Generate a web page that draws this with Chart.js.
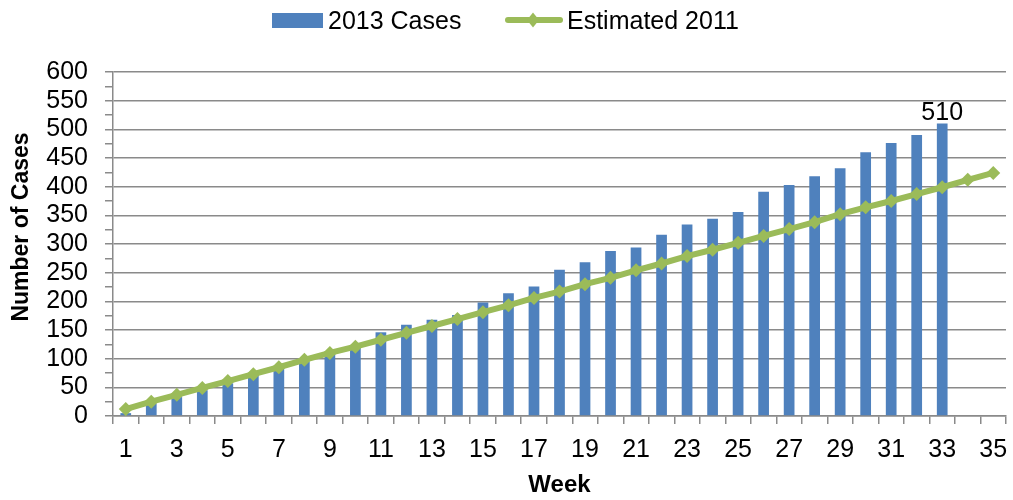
<!DOCTYPE html>
<html>
<head>
<meta charset="utf-8">
<script src="https://cdn.jsdelivr.net/npm/chart.js@4"></script>
<style>
  html, body { margin: 0; padding: 0; background: #fff; }
  #wrap { width: 1013px; height: 500px; }
</style>
</head>
<body>
<div id="wrap"><canvas id="c" width="1013" height="500"></canvas></div>
<script>
const weeks = ['1','2','3','4','5','6','7','8','9','10','11','12','13','14','15','16','17','18','19','20','21','22','23','24','25','26','27','28','29','30','31','32','33','34','35'];
const cases2013 = [5,22,33,45,57,72,83,95,109,121,146,159,168,176,198,214,226,255,268,288,294,316,334,344,356,391,403,418,432,460,476,490,510];
const estimated2011 = [12,25,37,49,61,73,85,98,110,121,133,145,157,169,181,193,206,217,230,241,254,266,279,290,302,314,326,338,352,364,375,387,399,412,424];
const seriesNames = ['2013 Cases', 'Estimated 2011'];
const xTitle = 'Week';
const yTitle = 'Number of Cases';
const yMin = 0, yMax = 600, yStep = 25, yLabelStep = 50;

const FONT = '"Liberation Sans", Arial, sans-serif';
const GRID = '#8a8a8a';
const BLUE = '#4F81BD';
const GREEN = '#9BBB59';
const FS = 25;

const legendPlugin = {
  id: 'customLegend',
  afterDraw(chart) {
    const ctx = chart.ctx;
    const ds = chart.data.datasets;
    ctx.save();
    ctx.font = FS + 'px ' + FONT;
    ctx.textBaseline = 'alphabetic';
    ctx.textAlign = 'left';
    ctx.fillStyle = ds[0].backgroundColor;
    ctx.fillRect(272, 13, 51, 15);
    ctx.fillStyle = '#000';
    ctx.fillText(ds[0].label, 328, 29);
    ctx.strokeStyle = ds[1].borderColor;
    ctx.lineWidth = 6;
    ctx.lineCap = 'round';
    ctx.beginPath();
    ctx.moveTo(508, 20);
    ctx.lineTo(560, 20);
    ctx.stroke();
    ctx.fillStyle = ds[1].borderColor;
    ctx.beginPath();
    ctx.moveTo(533, 12.5);
    ctx.lineTo(539, 20);
    ctx.lineTo(533, 27.5);
    ctx.lineTo(527, 20);
    ctx.closePath();
    ctx.fill();
    ctx.fillStyle = '#000';
    ctx.fillText(ds[1].label, 567, 29);
    // y axis title
    ctx.translate(22, 227);
    ctx.rotate(-Math.PI / 2);
    ctx.font = 'bold 23px ' + FONT;
    ctx.textAlign = 'center';
    ctx.textBaseline = 'middle';
    ctx.fillText(yTitle, 0, 0);
    ctx.restore();
  }
};

const lastLabelPlugin = {
  id: 'lastLabel',
  afterDatasetsDraw(chart) {
    const meta = chart.getDatasetMeta(0);
    const data = chart.data.datasets[0].data;
    const i = data.length - 1;
    const el = meta.data[i];
    if (!el) return;
    const ctx = chart.ctx;
    ctx.save();
    ctx.font = FS + 'px ' + FONT;
    ctx.fillStyle = '#000';
    ctx.textAlign = 'center';
    ctx.textBaseline = 'alphabetic';
    ctx.fillText(String(data[i]), el.x, el.y - 4);
    ctx.restore();
  }
};

new Chart(document.getElementById('c'), {
  data: {
    labels: weeks,
    datasets: [
      {
        type: 'bar',
        label: seriesNames[0],
        data: cases2013,
        backgroundColor: BLUE,
        borderWidth: 0,
        barPercentage: 0.42,
        categoryPercentage: 1.0,
        order: 2
      },
      {
        type: 'line',
        label: seriesNames[1],
        data: estimated2011,
        borderColor: GREEN,
        backgroundColor: GREEN,
        borderWidth: 6,
        tension: 0,
        pointStyle: 'rectRot',
        pointRadius: 7,
        pointBorderWidth: 0,
        pointBackgroundColor: GREEN,
        order: 1
      }
    ]
  },
  options: {
    responsive: false,
    animation: false,
    devicePixelRatio: 1,
    layout: { padding: { top: 72, right: 3, left: 0, bottom: 0 } },
    plugins: {
      legend: { display: false },
      tooltip: { enabled: false }
    },
    scales: {
      x: {
        type: 'category',
        offset: true,
        grid: {
          display: true,
          drawOnChartArea: false,
          offset: true,
          tickLength: 8,
          color: GRID,
          lineWidth: 1.5
        },
        border: { display: true, color: GRID, width: 1.5 },
        ticks: {
          autoSkip: false,
          maxRotation: 0,
          minRotation: 0,
          padding: 11,
          color: '#000',
          font: { family: FONT, size: FS },
          callback: function (value, index) {
            const lab = this.getLabelForValue(value);
            return (index % 2 === 0) ? lab : '';
          }
        },
        title: {
          display: true,
          text: xTitle,
          color: '#000',
          font: { family: FONT, size: 24, weight: 'bold' },
          padding: { top: 0, bottom: 0 }
        },
        afterFit(scale) {
          scale.height = 84;
          scale.paddingLeft = 0;
          scale.paddingRight = 0;
        }
      },
      y: {
        type: 'linear',
        min: yMin,
        max: yMax,
        grid: {
          drawOnChartArea: true,
          tickLength: 8,
          lineWidth: 1.5,
          color: (ctx) => (ctx.tick && ctx.tick.value % yLabelStep === 0) ? GRID : 'rgba(0,0,0,0)',
          tickColor: GRID
        },
        border: { display: true, color: GRID, width: 1.5 },
        ticks: {
          stepSize: yStep,
          autoSkip: false,
          maxTicksLimit: 100,
          padding: 17,
          color: '#000',
          font: { family: FONT, size: FS },
          callback: (v) => (v % yLabelStep === 0) ? String(v) : ''
        },
        title: { display: false },
        afterFit(scale) {
          scale.width = 113;
          scale.paddingTop = 0;
          scale.paddingBottom = 0;
        }
      }
    }
  },
  plugins: [lastLabelPlugin, legendPlugin]
});
</script>
</body>
</html>
